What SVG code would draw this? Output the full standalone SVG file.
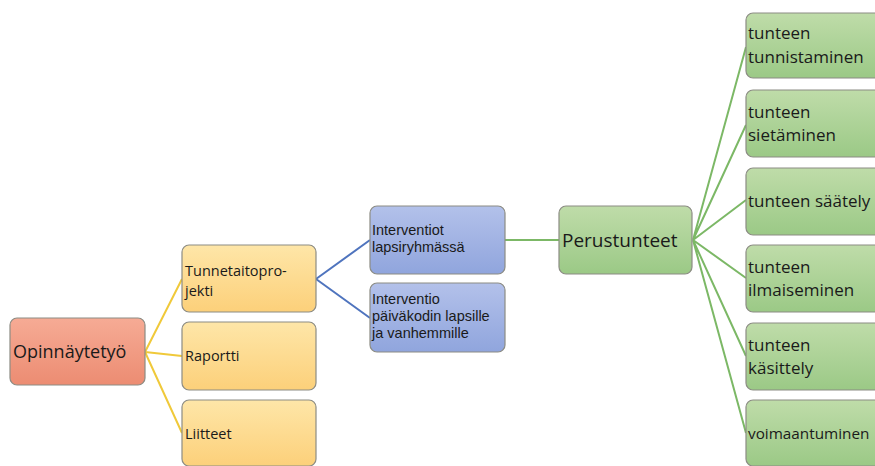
<svg xmlns="http://www.w3.org/2000/svg" width="875" height="466" viewBox="0 0 875 466">
<defs>
<linearGradient id="gr" x1="0" y1="0" x2="0" y2="1"><stop offset="0" stop-color="#f6ab95"/><stop offset="1" stop-color="#ec8c72"/></linearGradient>
<linearGradient id="go" x1="0" y1="0" x2="0" y2="1"><stop offset="0" stop-color="#fee6a8"/><stop offset="1" stop-color="#fcd07a"/></linearGradient>
<linearGradient id="gb" x1="0" y1="0" x2="0" y2="1"><stop offset="0" stop-color="#b3c1ea"/><stop offset="1" stop-color="#90a5dd"/></linearGradient>
<linearGradient id="gg" x1="0" y1="0" x2="0" y2="1"><stop offset="0" stop-color="#bfdca9"/><stop offset="1" stop-color="#9bc986"/></linearGradient>
</defs>
<style>
.n{stroke:#8c8c84;stroke-width:1.2}
.r{fill:url(#gr)} .o{fill:url(#go)} .b{fill:url(#gb)} .g{fill:url(#gg)}
text{font-family:"Open Sans","Liberation Sans",sans-serif;fill:#1a1a1a}
.l{fill:none;stroke-width:2}
.y{stroke:#f0c93a} .bl{stroke:#4f74be} .gl{stroke:#7cb866}
.bt{font-size:14.5px;font-family:"Liberation Sans",sans-serif} .gt{font-size:17px}
</style>
<rect width="875" height="466" fill="#fff"/>
<g id="connectors">
<path class="l y" d="M145 352 L182 279 M145 352 L182 356 M145 352 L182 433"/>
<path class="l bl" d="M316 279 L370 240 M316 279 L370 318"/>
<path class="l gl" d="M505 240 L559 240"/>
<path class="l gl" d="M693 240 L746 47 M693 240 L746 125 M693 240 L746 200 M693 240 L746 278 M693 240 L746 356 M693 240 L746 433"/>
</g>
<g id="n_opinnaytetyo"><rect class="n r" x="10" y="318" width="135" height="67" rx="7"/><text x="13" y="358" font-size="18">Opinnäytetyö</text></g>
<g id="n_tunnetaito"><rect class="n o" x="182" y="245" width="134" height="67" rx="7"/><text x="185" y="276" font-size="14.5">Tunnetaitopro-</text><text x="185" y="296" font-size="14.5">jekti</text></g>
<g id="n_raportti"><rect class="n o" x="182" y="322" width="134" height="68" rx="7"/><text x="185" y="361" font-size="14.5">Raportti</text></g>
<g id="n_liitteet"><rect class="n o" x="182" y="400" width="134" height="66" rx="7"/><text x="185" y="439" font-size="14.5">Liitteet</text></g>
<g id="n_interventiot"><rect class="n b" x="370" y="206" width="135" height="68" rx="7"/><text class="bt" x="372" y="235">Interventiot</text><text class="bt" x="372" y="252">lapsiryhmässä</text></g>
<g id="n_interventio"><rect class="n b" x="370" y="283" width="135" height="69" rx="7"/><text class="bt" x="372" y="304">Interventio</text><text class="bt" x="372" y="321">päiväkodin lapsille</text><text class="bt" x="372" y="338">ja vanhemmille</text></g>
<g id="n_perustunteet"><rect class="n g" x="559" y="206" width="133" height="68" rx="7"/><text x="562" y="247" font-size="19">Perustunteet</text></g>
<g id="n_tunnistaminen"><rect class="n g" x="746" y="13" width="140" height="65" rx="7"/><text class="gt" x="748" y="39">tunteen</text><text class="gt" x="748" y="63">tunnistaminen</text></g>
<g id="n_sietaminen"><rect class="n g" x="746" y="90" width="140" height="67" rx="7"/><text class="gt" x="748" y="118">tunteen</text><text class="gt" x="748" y="141">sietäminen</text></g>
<g id="n_saately"><rect class="n g" x="746" y="168" width="140" height="67" rx="7"/><text class="gt" x="748" y="207">tunteen säätely</text></g>
<g id="n_ilmaiseminen"><rect class="n g" x="746" y="245" width="140" height="67" rx="7"/><text class="gt" x="748" y="273">tunteen</text><text class="gt" x="748" y="296">ilmaiseminen</text></g>
<g id="n_kasittely"><rect class="n g" x="746" y="323" width="140" height="67" rx="7"/><text class="gt" x="748" y="351">tunteen</text><text class="gt" x="748" y="374">käsittely</text></g>
<g id="n_voimaantuminen"><rect class="n g" x="746" y="400" width="140" height="66" rx="7"/><text x="748" y="439" style="font-size:15.3px">voimaantuminen</text></g>
</svg>
